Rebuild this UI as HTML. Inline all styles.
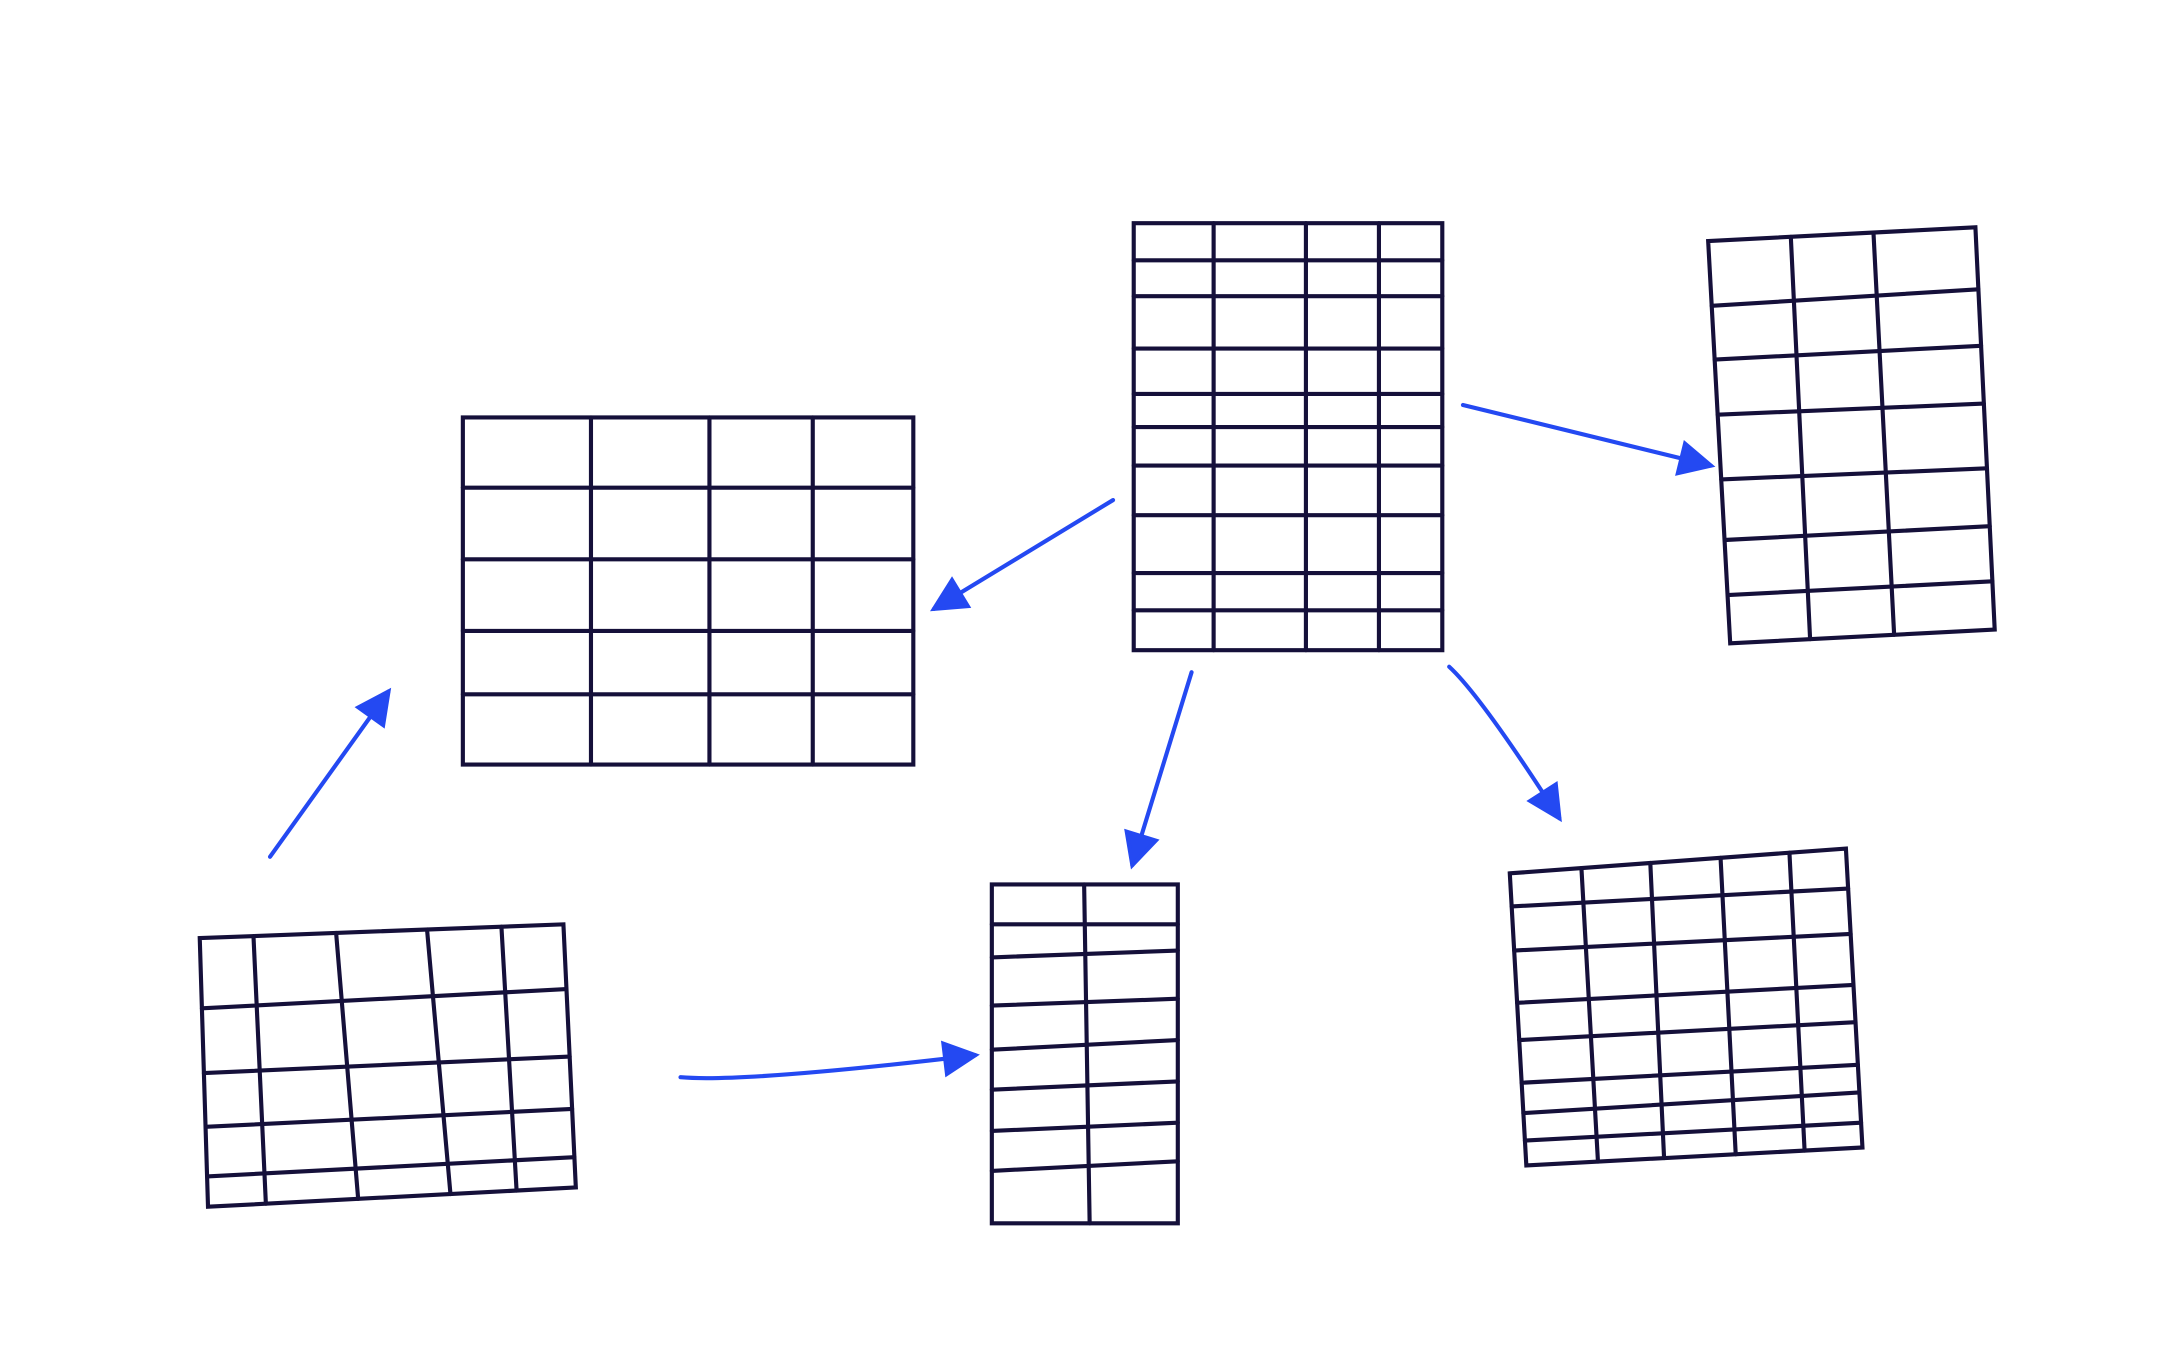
<!DOCTYPE html>
<html><head><meta charset="utf-8"><style>html,body{margin:0;padding:0;background:#fff}svg{display:block}</style></head>
<body>
<svg width="2160" height="1350" viewBox="0 0 1568 980" preserveAspectRatio="none" xmlns="http://www.w3.org/2000/svg">
<g id="tables" stroke="#15103a" stroke-width="3" fill="none" stroke-linecap="round"></g>
<g id="arrows" stroke="#2449f2" stroke-width="3" fill="none" stroke-linecap="round"></g>
</svg>
<script>
const NS='http://www.w3.org/2000/svg';
const tables=[
 {name:'table-center-left',tl:[336,303],tr:[663,303],br:[663,555],bl:[336,555],h:[[354,354],[406,406],[458,458],[504,504]],v:[[429,429],[515,515],[590,590]]},
 {name:'table-top-center',tl:[823,162],tr:[1047,162],br:[1047,472],bl:[823,472],h:[[189,189],[215,215],[253,253],[286,286],[310,310],[338,338],[374,374],[416,416],[443,443]],v:[[881,881],[948,948],[1001,1001]]},
 {name:'table-top-right',tl:[1240,175],tr:[1434,165],br:[1448,457],bl:[1256,467],h:[[222,210],[261,251],[301,293],[348,340],[392,382],[432,422]],v:[[1300,1314],[1360,1375]]},
 {name:'table-bottom-left',tl:[145,681],tr:[409,671],br:[418,862],bl:[151,876],h:[[732,718],[779,767],[818,805],[854,840]],v:[[184,193],[244,260],[310,327],[364,375]]},
 {name:'table-bottom-middle',tl:[720,642],tr:[855,642],br:[855,888],bl:[720,888],h:[[671,671],[695,690],[730,725],[762,755],[791,785],[821,815],[850,843]],v:[[787,791]]},
 {name:'table-bottom-right',tl:[1096,634],tr:[1340,616],br:[1352,833],bl:[1108,846],h:[[658,645],[690,678],[728,715],[755,742],[786,773],[808,793],[828,815]],v:[[1148,1160],[1198,1208],[1249,1260],[1299,1310]]}
];
const arrows=[
 {name:'arrow-to-center-left',from:[808,363],c:null,to:[678,442]},
 {name:'arrow-to-top-right',from:[1062,294],c:null,to:[1242,338]},
 {name:'arrow-to-bottom-middle',from:[865,488],c:null,to:[822,628]},
 {name:'arrow-to-bottom-right',from:[1052,484],c:[1075,505],to:[1132,594]},
 {name:'arrow-from-bottom-left',from:[196,622],c:null,to:[282,502]},
 {name:'arrow-bottom-left-to-middle',from:[494,782],c:[540,786],to:[708,766]}
];
const tg=document.getElementById('tables'),ag=document.getElementById('arrows');
function line(g,x1,y1,x2,y2,n){const l=document.createElementNS(NS,'line');l.setAttribute('x1',x1);l.setAttribute('y1',y1);l.setAttribute('x2',x2);l.setAttribute('y2',y2);


g.appendChild(l);}
function lerp(a,b,t){return [a[0]+(b[0]-a[0])*t,a[1]+(b[1]-a[1])*t];}
tables.forEach(t=>{
 const g=document.createElementNS(NS,'g');
 
 
 tg.appendChild(g);
 const p=document.createElementNS(NS,'polygon');
 p.setAttribute('points',[t.tl,t.tr,t.br,t.bl].map(q=>q.join(',')).join(' '));
 
 
 g.appendChild(p);
 t.h.forEach(r=>{
  const xl=t.tl[0]+(t.bl[0]-t.tl[0])*(r[0]-t.tl[1])/(t.bl[1]-t.tl[1]);
  const xr=t.tr[0]+(t.br[0]-t.tr[0])*(r[1]-t.tr[1])/(t.br[1]-t.tr[1]);
  line(g,xl,r[0],xr,r[1],'row-line');
 });
 t.v.forEach(c=>{
  const yt=t.tl[1]+(t.tr[1]-t.tl[1])*(c[0]-t.tl[0])/(t.tr[0]-t.tl[0]);
  const yb=t.bl[1]+(t.br[1]-t.bl[1])*(c[1]-t.bl[0])/(t.br[0]-t.bl[0]);
  line(g,c[0],yt,c[1],yb,'column-line');
 });
});
arrows.forEach(a=>{
 const g=document.createElementNS(NS,'g');
 
 
 ag.appendChild(g);
 const p=document.createElementNS(NS,'path');
 const d=a.c?`M${a.from} Q${a.c} ${a.to}`:`M${a.from} L${a.to}`;
 p.setAttribute('d',d);
 
 
 g.appendChild(p);
 const src=a.c||a.from;const dx=a.to[0]-src[0],dy=a.to[1]-src[1];const L=Math.hypot(dx,dy);const ux=dx/L,uy=dy/L;
 const bx=a.to[0]-ux*22,by=a.to[1]-uy*22;
 const h=document.createElementNS(NS,'polygon');
 h.setAttribute('points',`${a.to} ${bx-uy*11},${by+ux*11} ${bx+uy*11},${by-ux*11}`);
 h.setAttribute('fill','#2449f2');
 
 
 g.appendChild(h);
});
</script>
</body></html>
